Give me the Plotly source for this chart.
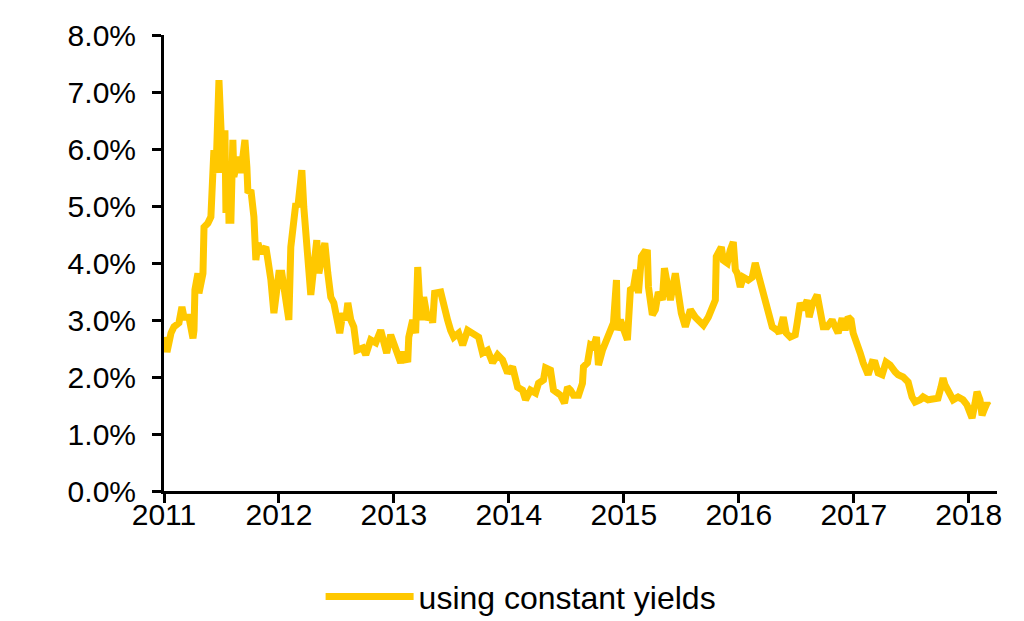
import plotly.graph_objects as go

# Decimal-year time stamps and yield values (%)
years = [
    2011.000, 2011.026, 2011.061, 2011.087, 2011.130, 2011.156, 2011.174, 2011.217, 2011.252, 2011.261,
    2011.269, 2011.295, 2011.304, 2011.339, 2011.348, 2011.382, 2011.408, 2011.434, 2011.452, 2011.478,
    2011.495, 2011.513, 2011.530, 2011.539, 2011.556, 2011.565, 2011.582, 2011.599, 2011.608, 2011.643,
    2011.669, 2011.704, 2011.721, 2011.730, 2011.756, 2011.773, 2011.782, 2011.799, 2011.817, 2011.843,
    2011.886, 2011.904, 2011.930, 2011.956, 2011.973, 2011.999, 2012.025, 2012.043, 2012.077, 2012.086,
    2012.103, 2012.129, 2012.147, 2012.164, 2012.182, 2012.199, 2012.216, 2012.234, 2012.251, 2012.260,
    2012.277, 2012.303, 2012.329, 2012.347, 2012.373, 2012.399, 2012.425, 2012.434, 2012.451, 2012.477,
    2012.512, 2012.529, 2012.555, 2012.581, 2012.599, 2012.625, 2012.651, 2012.677, 2012.729, 2012.755,
    2012.798, 2012.842, 2012.885, 2012.911, 2012.937, 2012.972, 2012.998, 2013.033, 2013.059, 2013.085,
    2013.120, 2013.129, 2013.163, 2013.189, 2013.207, 2013.233, 2013.259, 2013.294, 2013.320, 2013.337,
    2013.354, 2013.407, 2013.433, 2013.467, 2013.493, 2013.520, 2013.563, 2013.598, 2013.641, 2013.693,
    2013.737, 2013.771, 2013.815, 2013.858, 2013.902, 2013.945, 2013.989, 2014.032, 2014.076, 2014.119,
    2014.145, 2014.188, 2014.232, 2014.258, 2014.301, 2014.319, 2014.362, 2014.388, 2014.449, 2014.484,
    2014.510, 2014.536, 2014.562, 2014.606, 2014.640, 2014.649, 2014.684, 2014.710, 2014.736, 2014.762,
    2014.779, 2014.814, 2014.840, 2014.866, 2014.892, 2014.910, 2014.936, 2014.944, 2014.970, 2014.996,
    2015.031, 2015.057, 2015.083, 2015.109, 2015.127, 2015.153, 2015.179, 2015.205, 2015.214, 2015.248,
    2015.274, 2015.300, 2015.335, 2015.353, 2015.379, 2015.405, 2015.448, 2015.474, 2015.500, 2015.535,
    2015.579, 2015.622, 2015.665, 2015.692, 2015.735, 2015.770, 2015.796, 2015.804, 2015.822, 2015.848,
    2015.865, 2015.900, 2015.926, 2015.952, 2015.970, 2015.987, 2016.013, 2016.039, 2016.082, 2016.117,
    2016.143, 2016.169, 2016.291, 2016.334, 2016.352, 2016.387, 2016.413, 2016.447, 2016.491, 2016.508,
    2016.534, 2016.560, 2016.595, 2016.612, 2016.638, 2016.682, 2016.708, 2016.734, 2016.769, 2016.812,
    2016.838, 2016.864, 2016.899, 2016.925, 2016.951, 2016.977, 2016.995, 2017.029, 2017.056, 2017.082,
    2017.125, 2017.160, 2017.186, 2017.212, 2017.247, 2017.281, 2017.316, 2017.360, 2017.386, 2017.429,
    2017.473, 2017.507, 2017.533, 2017.577, 2017.603, 2017.646, 2017.690, 2017.733, 2017.759, 2017.777,
    2017.794, 2017.837, 2017.864, 2017.907, 2017.950, 2017.985, 2018.011, 2018.029, 2018.055, 2018.072,
    2018.098, 2018.116, 2018.133, 2018.159, 2018.168,
]

yield_pct = [
    2.70, 2.44, 2.77, 2.88, 2.95, 3.23, 3.05, 3.05, 2.68, 2.82,
    3.53, 3.82, 3.47, 3.82, 4.63, 4.70, 4.81, 5.98, 5.58, 7.21,
    6.39, 5.58, 6.33, 4.88, 5.75, 4.75, 4.75, 6.16, 5.51, 5.86,
    5.58, 6.16, 5.68, 5.23, 5.28, 4.98, 4.81, 4.05, 4.35, 4.18,
    4.28, 4.05, 3.70, 3.12, 3.35, 3.82, 3.82, 3.53, 3.12, 3.00,
    4.28, 4.63, 5.05, 4.98, 5.40, 5.63, 4.98, 4.53, 4.40, 3.82,
    3.44, 3.93, 4.40, 3.82, 4.18, 4.35, 3.82, 3.70, 3.40, 3.30,
    3.00, 2.77, 3.12, 3.00, 3.30, 3.00, 2.88, 2.47, 2.51, 2.39,
    2.65, 2.60, 2.82, 2.60, 2.42, 2.74, 2.60, 2.35, 2.25, 2.44,
    2.26, 2.70, 3.00, 2.77, 3.93, 3.00, 3.40, 3.00, 3.12, 2.95,
    3.47, 3.49, 3.23, 3.00, 2.82, 2.70, 2.77, 2.56, 2.82, 2.77,
    2.70, 2.42, 2.47, 2.25, 2.39, 2.30, 2.07, 2.18, 1.82, 1.77,
    1.60, 1.77, 1.72, 1.89, 1.95, 2.16, 2.12, 1.77, 1.68, 1.54,
    1.82, 1.77, 1.68, 1.68, 1.89, 2.18, 2.25, 2.56, 2.53, 2.70,
    2.21, 2.47, 2.60, 2.68, 2.88, 2.95, 3.70, 2.82, 3.00, 2.82,
    2.65, 3.53, 3.56, 3.88, 3.47, 4.11, 4.19, 4.18, 3.58, 3.09,
    3.18, 3.49, 3.35, 3.91, 3.58, 3.35, 3.82, 3.35, 3.12, 2.88,
    3.18, 3.05, 2.96, 2.91, 3.05, 3.21, 3.35, 4.11, 4.18, 4.28,
    4.05, 4.00, 4.23, 4.37, 3.88, 3.82, 3.58, 3.75, 3.70, 3.75,
    4.00, 3.82, 2.88, 2.82, 2.77, 3.05, 2.77, 2.70, 2.74, 2.95,
    3.30, 3.18, 3.35, 3.05, 3.26, 3.44, 3.05, 2.88, 2.88, 3.00,
    2.88, 2.77, 3.03, 2.82, 3.05, 3.00, 2.77, 2.60, 2.42, 2.25,
    2.04, 2.26, 2.25, 2.07, 2.04, 2.26, 2.21, 2.09, 2.04, 2.00,
    1.91, 1.65, 1.56, 1.60, 1.65, 1.60, 1.60, 1.63, 1.82, 1.98,
    1.86, 1.72, 1.60, 1.65, 1.60, 1.51, 1.37, 1.28, 1.54, 1.74,
    1.60, 1.33, 1.42, 1.54, 1.50,
]

year_ticks = [2011, 2012, 2013, 2014, 2015, 2016, 2017, 2018]
pct_ticks = [0, 1, 2, 3, 4, 5, 6, 7, 8]
series_name = "using constant yields"

FONT = "Arial, Liberation Sans, sans-serif"

fig = go.Figure()
fig.add_trace(go.Scatter(
    x=years, y=yield_pct, mode="lines", name=series_name,
    line=dict(color="#FFC800", width=7),
))

fig.update_layout(
    width=1024, height=621,
    margin=dict(l=164, r=27, t=35, b=130, autoexpand=False),
    paper_bgcolor="white", plot_bgcolor="white",
    font=dict(family=FONT, size=30, color="black"),
    showlegend=True,
    legend=dict(
        orientation="h", x=0.188, y=-0.232, xanchor="left", yanchor="middle",
        font=dict(family=FONT, size=32, color="black"),
        itemwidth=88, bgcolor="rgba(0,0,0,0)",
    ),
)

fig.update_xaxes(
    range=[2011.0, 2018.246], tickvals=year_ticks,
    ticktext=[str(y) for y in year_ticks],
    showgrid=False, zeroline=False, automargin=False,
    showline=True, linecolor="black", linewidth=3,
    ticks="outside", ticklen=9, tickwidth=3, tickcolor="black",
    ticklabelstandoff=-14,
    tickfont=dict(family=FONT, size=30, color="black"),
)
fig.update_yaxes(
    range=[0, 8], tickvals=pct_ticks,
    ticktext=[f"{v:.1f}%" for v in pct_ticks],
    showgrid=False, zeroline=False, automargin=False,
    showline=True, linecolor="black", linewidth=3,
    ticks="outside", ticklen=9, tickwidth=3, tickcolor="black",
    ticklabelstandoff=10,
    tickfont=dict(family=FONT, size=30, color="black"),
)

fig.write_html("out.html")
